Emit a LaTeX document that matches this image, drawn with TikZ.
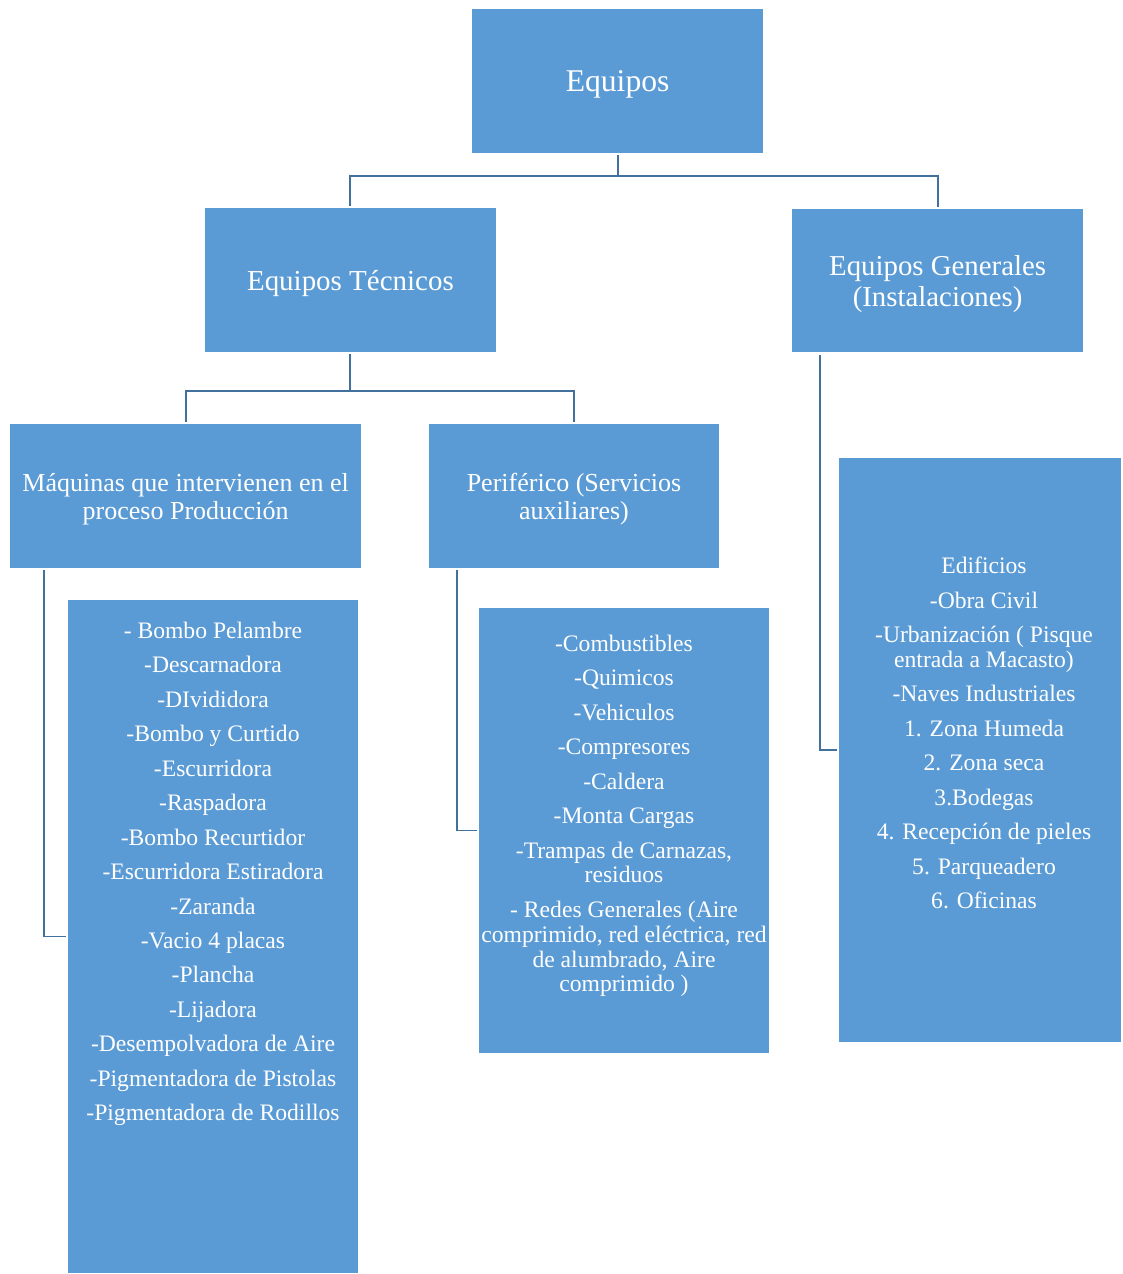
\documentclass[tikz,border=0pt]{standalone}
\usepackage{fontspec}
\setmainfont{Liberation Serif}
\usetikzlibrary{positioning}
\definecolor{cajaazul}{HTML}{5B9BD5}
\definecolor{lineaazul}{HTML}{41719C}
\tikzset{
  caja/.style={fill=cajaazul, text=white, align=center, minimum width=7.275cm, minimum height=3.6cm, inner sep=0pt, outer sep=1.5pt, text depth=0pt},
  lista/.style={text=white, align=center, inner sep=0pt, font=\fontsize{16.8}{17.7}\selectfont},
  rama/.style={draw=lineaazul, line width=1.3pt},
}
\begin{document}
\begin{tikzpicture}
  \useasboundingbox (0,0) rectangle (28.05,31.85);
  % niveles superiores
  \node[caja, font=\fontsize{22.5}{27}\selectfont] (equipos) at (15.44,29.825) {Equipos};
  \node[caja, font=\fontsize{20.6}{24}\selectfont] (tecnicos) at (8.76,24.85) {Equipos Técnicos};
  \node[caja, minimum height=3.575cm, font=\fontsize{20.5}{22}\selectfont] (generales) at (23.44,24.825) {Equipos Generales\\(Instalaciones)};
  \node[caja, minimum width=8.775cm, font=\fontsize{18.5}{19.9}\selectfont] (maquinas) at (4.64,19.45) {Máquinas que intervienen en el\\proceso Producción};
  \node[caja, minimum width=7.25cm, font=\fontsize{18.5}{19.9}\selectfont] (periferico) at (14.35,19.45) {Periférico (Servicios\\auxiliares)};
  % cajas de listas
  \node[caja, minimum width=7.25cm, minimum height=16.825cm] (lista1) at (5.325,8.4375) {};
  \node[caja, minimum width=7.25cm, minimum height=11.125cm] (lista2) at (15.6,11.0875) {};
  \node[caja, minimum width=7.05cm, minimum height=14.6cm] (lista3) at (24.5,13.1) {};
  \node[lista, below=0.6cm of lista1.north] (txt1) {- Bombo Pelambre\\[6.8pt]
    -Descarnadora\\[6.8pt] -DIvididora\\[6.8pt] -Bombo y Curtido\\[6.8pt]
    -Escurridora\\[6.8pt] -Raspadora\\[6.8pt] -Bombo Recurtidor\\[6.8pt]
    -Escurridora Estiradora\\[6.8pt] -Zaranda\\[6.8pt] -Vacio 4 placas\\[6.8pt]
    -Plancha\\[6.8pt] -Lijadora\\[6.8pt] -Desempolvadora de Aire\\[6.8pt]
    -Pigmentadora de Pistolas\\[6.8pt] -Pigmentadora de Rodillos};
  \node[lista, below=0.72cm of lista2.north] (txt2) {-Combustibles\\[6.8pt]
    -Quimicos\\[6.8pt] -Vehiculos\\[6.8pt] -Compresores\\[6.8pt] -Caldera\\[6.8pt]
    -Monta Cargas\\[6.8pt] -Trampas de Carnazas,\\ residuos\\[6.8pt]
    - Redes Generales (Aire\\ comprimido, red eléctrica, red\\ de alumbrado, Aire\\ comprimido )};
  \node[lista, below=2.52cm of lista3.north, xshift=0.1cm] (txt3) {Edificios\\[6.8pt]
    -Obra Civil\\[6.8pt] -Urbanización ( Pisque\\ entrada a Macasto)\\[6.8pt]
    -Naves Industriales\\[6.8pt] 1. Zona Humeda\\[6.8pt] 2. Zona seca\\[6.8pt]
    3.Bodegas\\[6.8pt] 4. Recepción de pieles\\[6.8pt] 5. Parqueadero\\[6.8pt]
    6. Oficinas};
  % conectores
  \draw[rama] (equipos.south) -- ++(0,-0.52) coordinate (cruce1) -| (tecnicos.north);
  \draw[rama] (cruce1) -| (generales.north);
  \draw[rama] (tecnicos.south) -- ++(0,-0.92) coordinate (cruce2) -| (maquinas.north);
  \draw[rama] (cruce2) -| (periferico.north);
  \draw[rama] ([xshift=0.9cm]maquinas.south west) |- (lista1.west);
  \draw[rama] ([xshift=0.75cm]periferico.south west) |- (lista2.west);
  \draw[rama] ([xshift=0.75cm]generales.south west) |- (lista3.west);
\end{tikzpicture}
\end{document}
